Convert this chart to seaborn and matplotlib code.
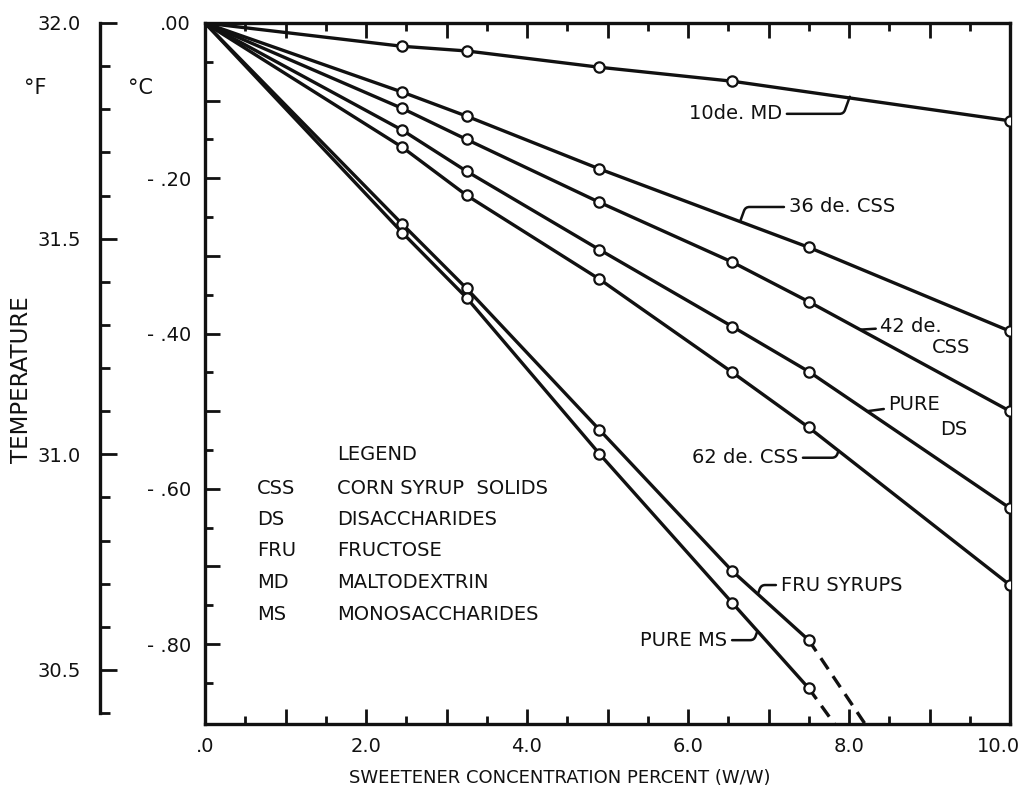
import numpy as np
import pandas as pd
import matplotlib.pyplot as plt
import matplotlib.transforms as mtransforms
import seaborn as sns

# concentrations (% w/w) where the circles sit
conc_six = [2.45, 3.25, 4.9, 6.55, 7.5, 10.0]
conc_md = [2.45, 3.25, 4.9, 6.55, 10.0]
conc_36 = [2.45, 3.25, 4.9, 7.5, 10.0]
conc_fru = [2.45, 3.25, 4.9, 6.55, 7.5]

# freezing point depression, deg C
md_10de = [-0.030, -0.036, -0.057, -0.075, -0.126]
css_36de = [-0.089, -0.120, -0.188, -0.289, -0.397]
css_42de = [-0.110, -0.150, -0.231, -0.308, -0.359, -0.500]
pure_ds = [-0.138, -0.191, -0.292, -0.391, -0.449, -0.625]
css_62de = [-0.160, -0.222, -0.330, -0.450, -0.521, -0.724]
fru_syrups = [-0.259, -0.342, -0.524, -0.706, -0.795]
pure_ms = [-0.270, -0.354, -0.555, -0.747, -0.857]

# dashed extrapolations past the last measured point
fru_dash_x = [7.5, 8.2]
fru_dash_y = [-0.795, -0.903]
ms_dash_x = [7.5, 7.82]
ms_dash_y = [-0.857, -0.903]

legend_abbr = ["CSS", "DS", "FRU", "MD", "MS"]
legend_desc = ["CORN SYRUP  SOLIDS", "DISACCHARIDES", "FRUCTOSE", "MALTODEXTRIN", "MONOSACCHARIDES"]

ink = "#111111"
y_bottom = -0.903

sns.set_theme(style="ticks")
plt.rcParams["font.family"] = ["DejaVu Sans"]
plt.rcParams["font.size"] = 14

fig = plt.figure(figsize=(10.24, 7.96), dpi=100)
fig.patch.set_facecolor("white")
ax = fig.add_axes([205 / 1024, 1 - 724 / 796, 805 / 1024, 701 / 796])

series = [(conc_md, md_10de), (conc_36, css_36de), (conc_six, css_42de),
          (conc_six, pure_ds), (conc_six, css_62de), (conc_fru, fru_syrups),
          (conc_fru, pure_ms)]
for xs, ys in series:
    curve = pd.DataFrame({"conc": [0.0] + list(xs), "temp": [0.0] + list(ys)})
    sns.lineplot(data=curve, x="conc", y="temp", ax=ax, color=ink,
                 linewidth=2.4, sort=False)
    sns.scatterplot(x=xs, y=ys, ax=ax, marker="o", s=55, facecolor="white",
                    edgecolor=ink, linewidth=1.6, zorder=3)

for dx, dy in [(fru_dash_x, fru_dash_y), (ms_dash_x, ms_dash_y)]:
    sns.lineplot(x=dx, y=dy, ax=ax, color=ink, linewidth=2.4,
                 linestyle=(0, (4, 2.5)), sort=False)

ax.set_xlim(0, 10)
ax.set_ylim(y_bottom, 0)

xt = np.arange(0, 11, 1.0)
ax.set_xticks(xt)
ax.set_xticklabels([".0" if v == 0 else (f"{v:.1f}" if v % 2 == 0 else "") for v in xt])
ax.set_xticks(np.arange(0.5, 10, 1.0), minor=True)

yt = np.round(np.arange(0, -0.81, -0.1), 2)
ax.set_yticks(yt)
ylabels = []
for v in yt:
    if v == 0:
        ylabels.append(".00")
    elif round(v * 10) % 2 == 0:
        ylabels.append("- " + f"{abs(v):.2f}"[1:])
    else:
        ylabels.append("")
ax.set_yticklabels(ylabels)
ax.set_yticks(np.arange(-0.05, -0.9, -0.1), minor=True)

ax.tick_params(which="both", direction="in", top=True, right=True,
               labeltop=False, labelright=False, color=ink, width=2, labelcolor=ink)
ax.tick_params(which="major", length=11, labelsize=14)
ax.tick_params(axis="y", which="major", pad=10)
ax.tick_params(axis="x", which="major", pad=9)
ax.tick_params(which="minor", length=5.5)
for sp in ax.spines.values():
    sp.set_linewidth(2.4)
    sp.set_color(ink)

# keep the "10.0" label inside the picture
last = ax.get_xticklabels()[-1]
last.set_transform(last.get_transform() +
                   mtransforms.ScaledTranslation(-8 / 72, 0, fig.dpi_scale_trans))

ax.set_xlabel("SWEETENER CONCENTRATION PERCENT (W/W)", fontsize=13, color=ink)
ax.xaxis.set_label_coords((560 - 205) / 805, -0.064)
ax.set_ylabel("")

# Fahrenheit scale on an outer left spine
fax = ax.twinx()
fax.set_ylim(32 + 1.8 * y_bottom, 32.0)
for side in ["right", "top", "bottom"]:
    fax.spines[side].set_visible(False)
fax.spines["left"].set_visible(True)
fax.spines["left"].set_position(("outward", 75.6))
fax.spines["left"].set_bounds(30.4, 32.0)
fax.spines["left"].set_linewidth(2.4)
fax.spines["left"].set_color(ink)
fax.yaxis.set_ticks_position("left")
fax.yaxis.set_label_position("left")
fax.set_yticks([30.5, 31.0, 31.5, 32.0])
fax.set_yticklabels(["30.5", "31.0", "31.5", "32.0"])
fax.set_yticks([30.4, 30.6, 30.7, 30.8, 30.9, 31.1, 31.2, 31.3, 31.4,
                31.6, 31.7, 31.8, 31.9], minor=True)
fax.tick_params(which="both", direction="in", color=ink, width=2, labelcolor=ink)
fax.tick_params(which="major", length=12, pad=14, labelsize=14)
fax.tick_params(which="minor", length=7)

fig.text(35 / 1024, 1 - 88 / 796, "°F", fontsize=15, color=ink, ha="center", va="center")
fig.text(140 / 1024, 1 - 88 / 796, "°C", fontsize=15, color=ink, ha="center", va="center")
fig.text(22 / 1024, 1 - 380 / 796, "TEMPERATURE", fontsize=16.5, color=ink,
         rotation=90, ha="center", va="center")

# curve labels with leader lines
leader = dict(arrowstyle="-", color=ink, linewidth=1.8, shrinkA=1, shrinkB=0)
curve_labels = [
    ("10de. MD", (8.01, -0.095), (7.17, -0.117), "right", "angle,angleA=0,angleB=70,rad=4"),
    ("36 de. CSS", (6.65, -0.255), (7.25, -0.237), "left", "angle,angleA=0,angleB=70,rad=4"),
    ("42 de.", (8.14, -0.395), (8.39, -0.391), "left", "arc3"),
    ("PURE", (8.23, -0.500), (8.49, -0.492), "left", "arc3"),
    ("62 de. CSS", (7.87, -0.551), (7.37, -0.560), "right", "angle,angleA=0,angleB=70,rad=4"),
    ("FRU SYRUPS", (6.87, -0.735), (7.15, -0.724), "left", "angle,angleA=0,angleB=70,rad=4"),
    ("PURE MS", (6.86, -0.784), (6.49, -0.795), "right", "angle,angleA=0,angleB=70,rad=4"),
]
for text, xy, xytext, ha, conn in curve_labels:
    ax.annotate(text, xy=xy, xytext=xytext, ha=ha, va="center", fontsize=14,
                color=ink, arrowprops=dict(leader, connectionstyle=conn))
ax.text(9.27, -0.418, "CSS", ha="center", va="center", fontsize=14, color=ink)
ax.text(9.30, -0.524, "DS", ha="center", va="center", fontsize=14, color=ink)

# legend block
fig.text(337 / 1024, 1 - 455 / 796, "LEGEND", fontsize=14, color=ink, va="center")
for i, (abbr, desc) in enumerate(zip(legend_abbr, legend_desc)):
    yy = 1 - (488 + i * 31.5) / 796
    fig.text(257 / 1024, yy, abbr, fontsize=14, color=ink, va="center")
    fig.text(337 / 1024, yy, desc, fontsize=14, color=ink, va="center")

fig.savefig("out.png", dpi=100, facecolor="white")
